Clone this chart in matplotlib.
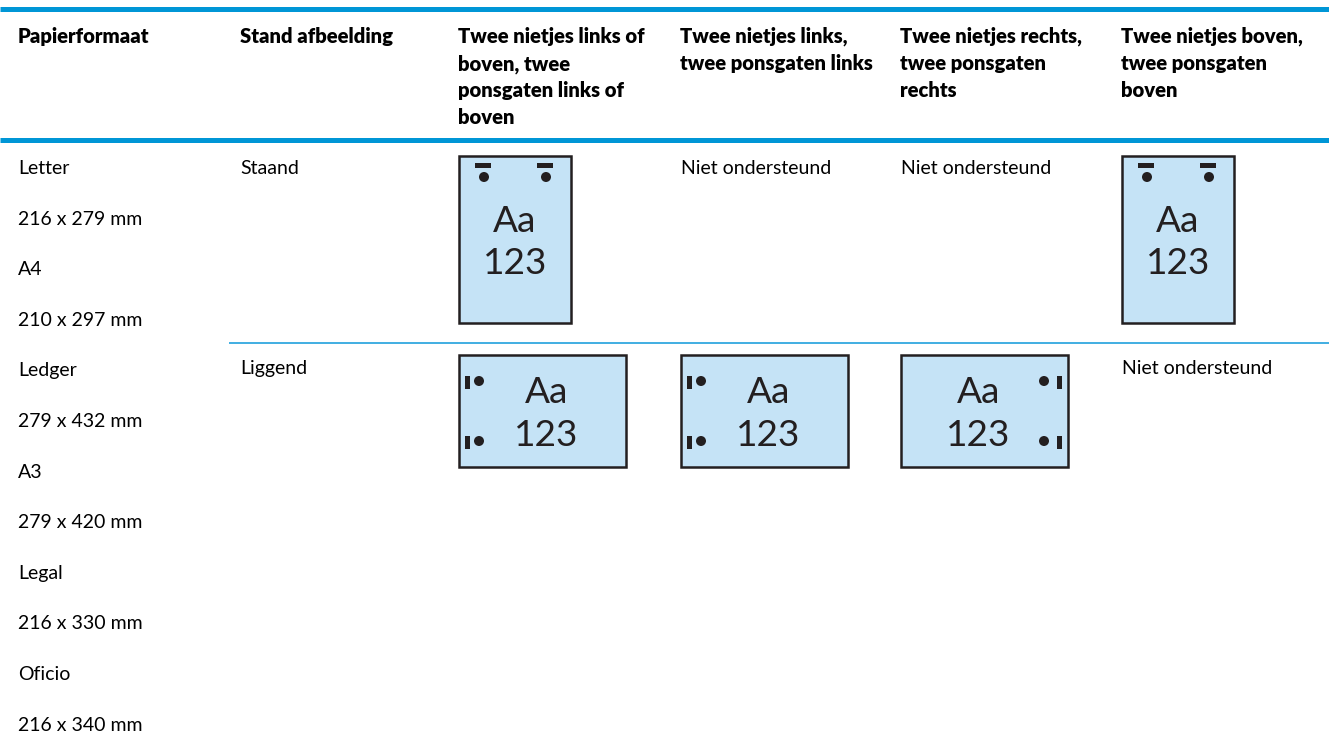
import matplotlib.pyplot as plt
from matplotlib.patches import Rectangle, Circle

plt.rcParams['font.family'] = ['Lato', 'DejaVu Sans']

# kolomkoppen (per regel)
headers = [
    ["Papierformaat"],
    ["Stand afbeelding"],
    ["Twee nietjes links of", "boven, twee", "ponsgaten links of", "boven"],
    ["Twee nietjes links,", "twee ponsgaten links"],
    ["Twee nietjes rechts,", "twee ponsgaten", "rechts"],
    ["Twee nietjes boven,", "twee ponsgaten", "boven"],
]
paper_sizes = ["Letter", "216 x 279 mm", "A4", "210 x 297 mm",
               "Ledger", "279 x 432 mm", "A3", "279 x 420 mm",
               "Legal", "216 x 330 mm", "Oficio", "216 x 340 mm"]
orientations = ["Staand", "Liggend"]
# celinhoud: icoon-type of tekst
cells = [
    ["icon_top", "Niet ondersteund", "Niet ondersteund", "icon_top"],
    ["icon_left", "icon_left", "icon_right", "Niet ondersteund"],
]
icon_label = ["Aa", "123"]

W, H = 1329, 746
col_x = [7, 229, 447, 669, 889, 1110, W]
pad = 11
header_base = 43
header_step = 27
row_top = [156, 355]
row_base = [174, 374]
list_base = 174
list_step = 50.6

blue = '#0096D6'
light_line = '#45B0E2'
paper_fill = '#C5E3F6'
ink = '#231F20'

body_px = 19.5
head_px = 20.3

fig = plt.figure(figsize=(W / 100, H / 100), dpi=100)
ax = fig.add_axes([0, 0, 1, 1])
ax.set_xlim(0, W)
ax.set_ylim(H, 0)
ax.axis('off')

def px(v):
    return v * 72 / 100

# lijnen
ax.plot([0, W], [8.5, 8.5], color=blue, lw=px(5), solid_capstyle='butt')
ax.plot([0, W], [140, 140], color=blue, lw=px(5), solid_capstyle='butt')
ax.plot([col_x[1], W], [342.5, 342.5], color=light_line, lw=px(2), solid_capstyle='butt')

# koppen
for i, lines in enumerate(headers):
    for j, t in enumerate(lines):
        ax.text(col_x[i] + pad, header_base + j * header_step, t,
                fontsize=px(head_px), fontweight='heavy', color='black',
                va='baseline', ha='left')

# papierformaten
for i, t in enumerate(paper_sizes):
    ax.text(col_x[0] + pad, list_base + i * list_step, t,
            fontsize=px(body_px), color='black', va='baseline', ha='left')

def draw_icon(kind, x0, y0):
    if kind == 'icon_top':
        w, h = 112, 167
    else:
        w, h = 167, 112
    ax.add_patch(Rectangle((x0, y0), w, h, facecolor=paper_fill, edgecolor=ink, lw=px(2.5)))
    dot_r = 5
    if kind == 'icon_top':
        for dx in (25, w - 25):
            ax.add_patch(Rectangle((x0 + dx - 9, y0 + 7), 16, 5, facecolor=ink, edgecolor='none'))
            ax.add_patch(Circle((x0 + dx, y0 + 21), dot_r, facecolor=ink, edgecolor='none'))
        cx = x0 + w / 2
        bases = (y0 + 76, y0 + 118)
    else:
        for dy in (27, h - 25):
            if kind == 'icon_left':
                bx, dx = x0 + 6, x0 + 20
                cx = x0 + w / 2 + 4
            else:
                bx, dx = x0 + w - 11, x0 + w - 24
                cx = x0 + w / 2 - 6
            ax.add_patch(Rectangle((bx, y0 + dy - 6), 5, 13, facecolor=ink, edgecolor='none'))
            ax.add_patch(Circle((dx, y0 + dy - 1), dot_r, facecolor=ink, edgecolor='none'))
        bases = (y0 + 48, y0 + 91)
    for t, b in zip(icon_label, bases):
        ax.text(cx, b, t, fontsize=px(37), color=ink, ha='center', va='baseline')

# rijen
for r, name in enumerate(orientations):
    ax.text(col_x[1] + pad, row_base[r], name, fontsize=px(body_px), color='black',
            va='baseline', ha='left')
    for c, cell in enumerate(cells[r]):
        x0 = col_x[c + 2] + pad + 1
        if cell.startswith('icon'):
            draw_icon(cell, x0, row_top[r])
        else:
            ax.text(x0, row_base[r], cell, fontsize=px(body_px), color='black',
                    va='baseline', ha='left')

fig.savefig('out.png', dpi=100)
